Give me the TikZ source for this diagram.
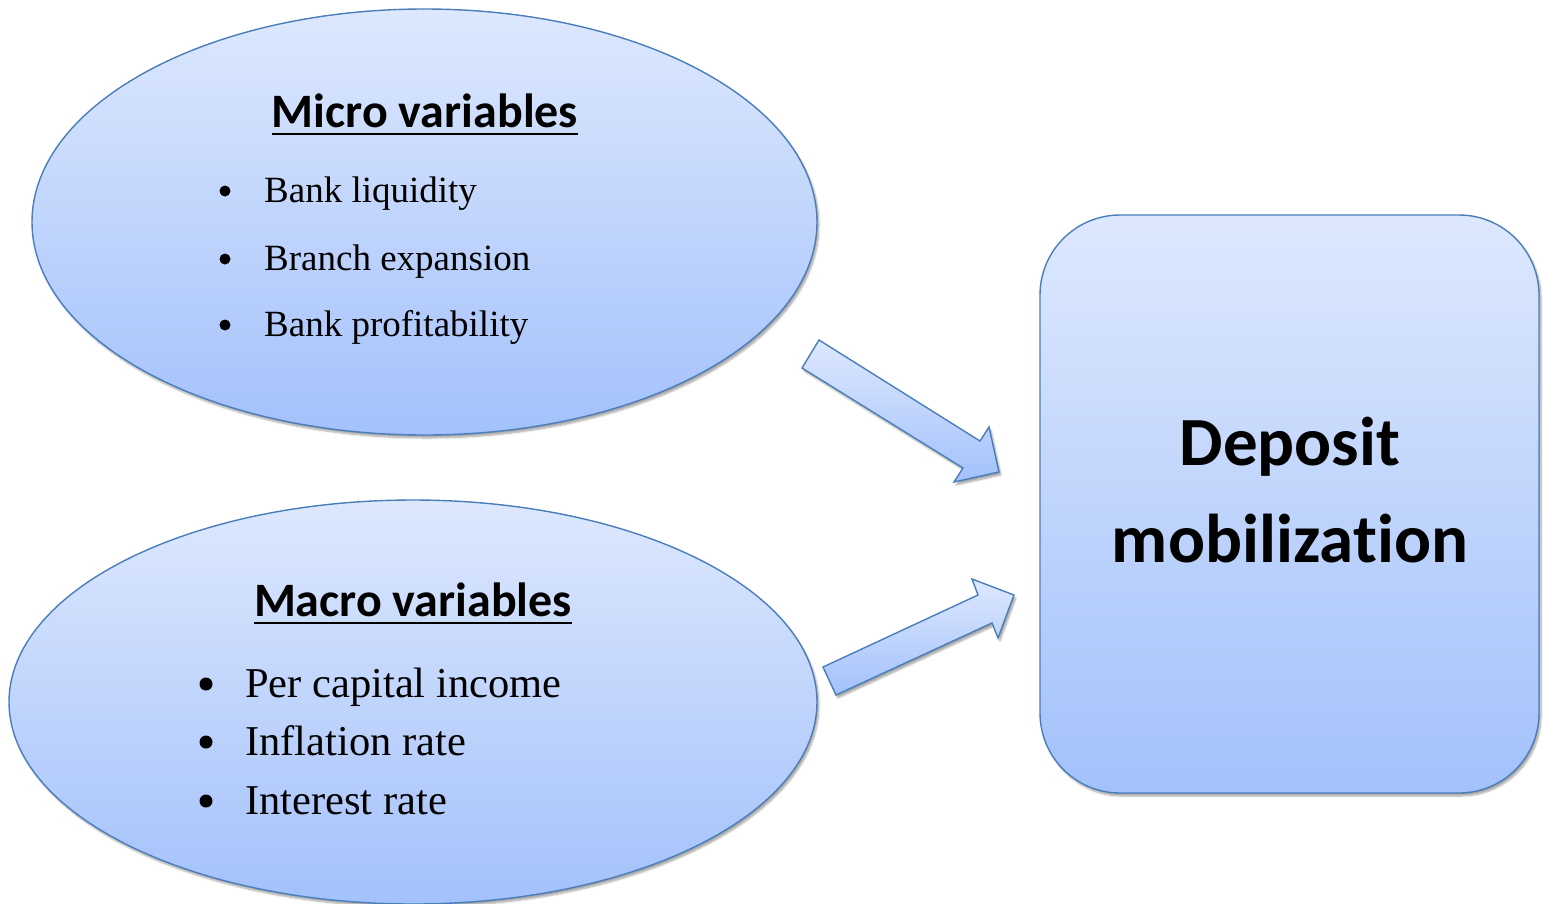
\documentclass[tikz,border=0pt]{standalone}
\usepackage{fontspec}
\setmainfont{Liberation Serif}
\newfontfamily\headfont[Ligatures=NoCommon]{Carlito}
\usetikzlibrary{shapes.geometric,shadows.blur}
\definecolor{edgeblue}{HTML}{4A7EBB}
\definecolor{filltop}{HTML}{DDE8FD}
\definecolor{fillbot}{HTML}{A3C1FB}
\tikzset{
  blueshape/.style={draw=edgeblue, line width=1.4pt, top color=filltop, bottom color=fillbot,
    blur shadow={shadow xshift=2pt, shadow yshift=-3pt, shadow blur steps=6, shadow opacity=35}},
  heading/.style={font=\headfont\bfseries\fontsize{48}{52}\selectfont, anchor=base, inner sep=0pt},
  item/.style={anchor=base west, inner sep=0pt},
  bul/.style={circle, fill=black, inner sep=0pt, minimum size=#1},
  uline/.style={line width=2.6pt},
  blockarrow/.style={draw=edgeblue, line width=1.4pt, line join=miter, top color=filltop, bottom color=fillbot,
    blur shadow={shadow xshift=2pt, shadow yshift=-3pt, shadow blur steps=5, shadow opacity=35}}
}
\begin{document}
\begin{tikzpicture}[x=1pt,y=-1pt]
\useasboundingbox (0,0) rectangle (1544,903);

% two groups of variables
\node[blueshape, ellipse, minimum width=785pt, minimum height=426pt] (micro) at (424.5,222) {};
\node[blueshape, ellipse, minimum width=808pt, minimum height=404pt] (macro) at (413,702) {};

% outcome box
\node[blueshape, rectangle, rounded corners=80pt, minimum width=499pt, minimum height=578pt] (dep) at (1289.5,504) {};

% block arrows
\coordinate (a1t1) at (819,340);
\coordinate (a1t2) at (802,368);
\coordinate (a1j2) at (963,468);
\coordinate (a1h2) at (954,482);
\coordinate (a1tip) at (999,472);
\coordinate (a1h1) at (989,427);
\coordinate (a1j1) at (980,441);
\path[blockarrow] (a1t1) -- (a1j1) -- (a1h1) -- (a1tip) -- (a1h2) -- (a1j2) -- (a1t2) -- cycle;

\coordinate (a2t1) at (823,667);
\coordinate (a2t2) at (836,695);
\coordinate (a2j2) at (992,623);
\coordinate (a2h2) at (998,638);
\coordinate (a2tip) at (1014,595);
\coordinate (a2h1) at (972,579);
\coordinate (a2j1) at (978,595);
\path[blockarrow] (a2t1) -- (a2j1) -- (a2h1) -- (a2tip) -- (a2h2) -- (a2j2) -- (a2t2) -- cycle;

% micro variables
\node[heading] (microhead) at (425,127) {Micro variables};
\draw[uline] ([yshift=-7pt]microhead.base west) -- ([yshift=-7pt]microhead.base east);
\begin{scope}[every node/.append style={font=\fontsize{37}{42}\selectfont}]
  \node[bul=11pt] (mb1) at (225,191) {};
  \node[item] (mi1) at (264,202) {Bank liquidity};
  \node[bul=11pt] (mb2) at (225,259) {};
  \node[item] (mi2) at (264,270) {Branch expansion};
  \node[bul=11pt] (mb3) at (225,325) {};
  \node[item] (mi3) at (264,336) {Bank profitability};
\end{scope}

% macro variables
\node[heading] (macrohead) at (413,616) {Macro variables};
\draw[uline] ([yshift=-7pt]macrohead.base west) -- ([yshift=-7pt]macrohead.base east);
\begin{scope}[every node/.append style={font=\fontsize{42.5}{47}\selectfont}]
  \node[bul=13pt] (Mb1) at (206,684) {};
  \node[item] (Mi1) at (245,697) {Per capital income};
  \node[bul=13pt] (Mb2) at (206,742) {};
  \node[item] (Mi2) at (245,755) {Inflation rate};
  \node[bul=13pt] (Mb3) at (206,801) {};
  \node[item] (Mi3) at (245,814) {Interest rate};
\end{scope}

% outcome label
\node[anchor=base, inner sep=0pt, font=\headfont\bfseries\fontsize{69}{72}\selectfont] (deplab1) at (1290,465) {Deposit};
\node[anchor=base, inner sep=0pt, font=\headfont\bfseries\fontsize{69}{72}\selectfont] (deplab2) at (1290,562) {mobilization};
\end{tikzpicture}
\end{document}
